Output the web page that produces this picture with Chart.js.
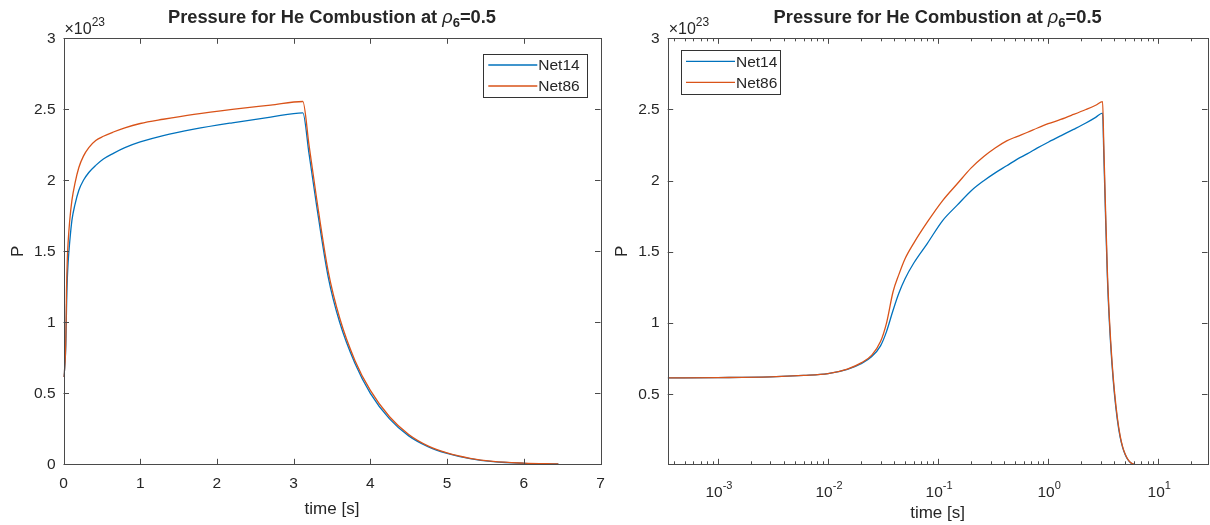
<!DOCTYPE html>
<html>
<head>
<meta charset="utf-8">
<script src="https://cdn.jsdelivr.net/npm/chart.js@4/dist/chart.umd.min.js"></script>
<style>
  html,body{margin:0;padding:0;background:#fff;}
  #wrap{position:relative;width:1210px;height:525px;background:#fff;}
  .pane{position:absolute;top:0;width:605px;height:525px;}
</style>
</head>
<body>
<div id="wrap">
  <div class="pane" style="left:0"><canvas id="c1"></canvas></div>
  <div class="pane" style="left:605px"><canvas id="c2"></canvas></div>
</div>
<script>
// ---- data (pressure in units of 1e23) ----
const times = [3.5e-4, 1e-3, 3e-3, 6e-3, 0.01, 0.015, 0.02, 0.025, 0.03, 0.034, 0.039, 0.044, 0.05, 0.06, 0.08, 0.11, 0.15, 0.2, 0.26, 0.33, 0.42, 0.52, 0.65, 0.8, 1.0, 1.3, 1.7, 2.2, 2.7, 3.12, 3.2, 3.3, 3.45, 3.6, 3.8, 4.0, 4.25, 4.5, 4.75, 5.0, 5.3, 5.6, 6.0, 6.45];
const net14 = [0.615, 0.617, 0.622, 0.632, 0.645, 0.675, 0.715, 0.765, 0.84, 0.94, 1.09, 1.21, 1.31, 1.42, 1.56, 1.72, 1.83, 1.93, 2.00, 2.055, 2.105, 2.15, 2.19, 2.23, 2.27, 2.315, 2.36, 2.405, 2.445, 2.475, 2.19, 1.82, 1.32, 1.0, 0.71, 0.5, 0.32, 0.2, 0.125, 0.077, 0.04, 0.019, 0.007, 0.002];
const net86 = [0.615, 0.617, 0.622, 0.632, 0.645, 0.677, 0.72, 0.775, 0.87, 1.0, 1.22, 1.34, 1.45, 1.56, 1.71, 1.86, 1.98, 2.09, 2.17, 2.23, 2.28, 2.31, 2.34, 2.37, 2.40, 2.43, 2.465, 2.50, 2.53, 2.555, 2.25, 1.87, 1.36, 1.03, 0.73, 0.52, 0.335, 0.21, 0.13, 0.08, 0.042, 0.02, 0.008, 0.002];
const seriesNames = ['Net14', 'Net86'];
const linTicksX = [0, 1, 2, 3, 4, 5, 6, 7];
const linTicksY = [0, 0.5, 1, 1.5, 2, 2.5, 3];
const logTicksY = [0.5, 1, 1.5, 2, 2.5, 3];
const logDecades = [-3, -2, -1, 0, 1];
const titleMain = 'Pressure for He Combustion at ';
const titleRho = 'ρ';
const titleSub = '6';
const titleEnd = '=0.5';
const xLabel = 'time [s]';
const yLabel = 'P';
const expLabel = '23';

const FONT = '"Liberation Sans", Arial, Helvetica, sans-serif';
const TXT = '#262626';
const AX = '#4a4a4a';
const BLUE = '#0072BD';
const ORANGE = '#D95319';

function pts(arr){ return times.map((t,i)=>({x:t,y:arr[i]})); }

function decorPlugin(opts){
  return {
    id:'decor',
    afterDraw(chart){
      const ctx = chart.ctx, a = chart.chartArea;
      const xs = chart.scales.x, ys = chart.scales.y;
      ctx.save();
      // box
      ctx.strokeStyle = AX; ctx.lineWidth = 1;
      ctx.strokeRect(Math.round(a.left)+0.5, Math.round(a.top)+0.5, Math.round(a.right-a.left), Math.round(a.bottom-a.top));
      // ticks
      ctx.beginPath();
      const majX = opts.log ? logDecades.map(d=>Math.pow(10,d)) : linTicksX;
      majX.forEach(v=>{
        if (v < xs.min || v > xs.max) return;
        const px = Math.round(xs.getPixelForValue(v))+0.5;
        ctx.moveTo(px, a.bottom); ctx.lineTo(px, a.bottom-5.5);
        ctx.moveTo(px, a.top); ctx.lineTo(px, a.top+5.5);
      });
      if (opts.log){
        for (let d=-4; d<=1; d++){
          for (let k=2;k<=9;k++){
            const v = k*Math.pow(10,d);
            if (v < xs.min || v > xs.max) continue;
            const px = Math.round(xs.getPixelForValue(v))+0.5;
            ctx.moveTo(px, a.bottom); ctx.lineTo(px, a.bottom-3);
            ctx.moveTo(px, a.top); ctx.lineTo(px, a.top+3);
          }
        }
      }
      const majY = opts.log ? logTicksY : linTicksY;
      majY.forEach(v=>{
        const py = Math.round(ys.getPixelForValue(v))+0.5;
        ctx.moveTo(a.left, py); ctx.lineTo(a.left+5.5, py);
        ctx.moveTo(a.right, py); ctx.lineTo(a.right-5.5, py);
      });
      ctx.stroke();

      ctx.fillStyle = TXT;
      // log x tick labels with superscripts
      if (opts.log){
        logDecades.forEach(d=>{
          const px = xs.getPixelForValue(Math.pow(10,d));
          ctx.font = '15.5px ' + FONT;
          const base = '10', ex = String(d);
          const wb = ctx.measureText(base).width;
          ctx.font = '11px ' + FONT;
          const we = ctx.measureText(ex).width;
          const x0 = px - (wb+we)/2 + 1;
          ctx.textBaseline = 'alphabetic'; ctx.textAlign = 'left';
          ctx.font = '15.5px ' + FONT; ctx.fillText(base, x0, a.bottom+33);
          ctx.font = '11px ' + FONT; ctx.fillText(ex, x0+wb, a.bottom+25);
        });
      }
      // exponent label
      ctx.textAlign='left'; ctx.textBaseline='alphabetic';
      ctx.font = '16px ' + FONT;
      const s1 = '\u00d710';
      ctx.fillText(s1, a.left+1, a.top-4);
      const w1 = ctx.measureText(s1).width;
      ctx.font = '12px ' + FONT;
      ctx.fillText(expLabel, a.left+1+w1, a.top-12);

      // title
      const cx = (a.left+a.right)/2;
      const parts = [
        {t:titleMain, f:'bold 18.3px '+FONT, dy:0},
        {t:titleRho, f:'italic 18.3px '+FONT, dy:0},
        {t:titleSub, f:'bold 13px '+FONT, dy:4},
        {t:titleEnd, f:'bold 18.3px '+FONT, dy:0}
      ];
      let tw = 0;
      parts.forEach(p=>{ ctx.font=p.f; p.w = ctx.measureText(p.t).width; tw += p.w; });
      let tx = cx - tw/2;
      const ty = 23;
      parts.forEach(p=>{ ctx.font=p.f; ctx.fillText(p.t, tx, ty+p.dy); tx += p.w; });

      // axis labels
      ctx.font = '17px ' + FONT;
      ctx.textAlign = 'center';
      ctx.fillText(xLabel, cx, opts.log ? a.bottom+54 : a.bottom+50);
      ctx.save();
      ctx.translate(opts.yLabelX, (a.top+a.bottom)/2);
      ctx.rotate(-Math.PI/2);
      ctx.fillText(yLabel, 0, 0);
      ctx.restore();

      // legend
      const L = opts.legend;
      const bx = opts.legendRight ? a.right - L.dx - L.w : a.left + L.dx;
      const by = a.top + L.dy;
      ctx.fillStyle = '#fff';
      ctx.fillRect(bx, by, L.w, L.h);
      ctx.strokeStyle = '#333'; ctx.lineWidth = 1;
      ctx.strokeRect(Math.round(bx)+0.5, Math.round(by)+0.5, Math.round(L.w), Math.round(L.h));
      const cols = [BLUE, ORANGE];
      ctx.font = '15.5px ' + FONT; ctx.textAlign='left'; ctx.textBaseline='middle';
      seriesNames.forEach((nm,i)=>{
        const ry = by + 11 + i*21;
        ctx.strokeStyle = cols[i]; ctx.lineWidth = 1.3;
        ctx.beginPath(); ctx.moveTo(bx+5, ry); ctx.lineTo(bx+54, ry); ctx.stroke();
        ctx.fillStyle = TXT;
        ctx.fillText(nm, bx+55, ry+1);
      });
      ctx.restore();
    }
  };
}

function makeChart(id, log){
  const ds = [
    {label:seriesNames[0], data:pts(net14), borderColor:BLUE, borderWidth:1.3, pointRadius:0, cubicInterpolationMode:'monotone', order:1, fill:false},
    {label:seriesNames[1], data:pts(net86), borderColor:ORANGE, borderWidth:1.3, pointRadius:0, cubicInterpolationMode:'monotone', order:0, fill:false}
  ];
  const yW = log ? 62.7 : 63.5;
  const padR = log ? 2.5 : 4.5;
  const fitX = (s)=>{ s.height = 525 - 464.3; s.paddingLeft = 0; s.paddingRight = 0; };
  const xScale = log ? {
      type:'logarithmic', min:3.5e-4, max:28,
      grid:{display:false}, border:{display:false},
      ticks:{display:false},
      afterFit: fitX
    } : {
      type:'linear', min:0, max:7,
      grid:{display:false, drawTicks:false}, border:{display:false},
      afterBuildTicks(s){ s.ticks = linTicksX.map(v=>({value:v})); },
      ticks:{color:TXT, font:{family:FONT, size:15.5}, padding:10, maxRotation:0, autoSkip:false},
      afterFit: fitX
    };
  const yScale = {
      type:'linear', min: log ? 0.008 : 0, max:3,
      grid:{display:false, drawTicks:false}, border:{display:false},
      afterBuildTicks(s){ s.ticks = (log ? logTicksY : linTicksY).map(v=>({value:v})); },
      ticks:{color:TXT, font:{family:FONT, size:15.5}, padding:8, autoSkip:false,
             callback:(v)=>String(v)},
      afterFit(s){ s.width = yW; s.paddingTop = 0; s.paddingBottom = 0; }
  };
  return new Chart(document.getElementById(id), {
    type:'line',
    data:{datasets:ds},
    options:{
      responsive:true, maintainAspectRatio:false, animation:false, devicePixelRatio:1,
      layout:{padding:{top:38.3, right:padR, left:0, bottom:0}},
      plugins:{legend:{display:false}, title:{display:false}, tooltip:{enabled:false}},
      scales:{x:xScale, y:yScale},
      events:[]
    },
    plugins:[decorPlugin({log:log, yLabelX: log ? 22 : 23,
      legendRight: !log,
      legend: log ? {dx:13.3, dy:12, w:99, h:44} : {dx:13.2, dy:15.7, w:104, h:43.3}})]
  });
}
makeChart('c1', false);
makeChart('c2', true);
</script>
</body>
</html>
